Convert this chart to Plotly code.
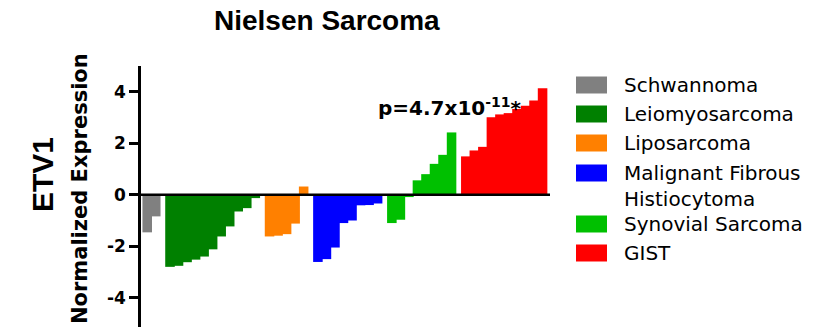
import plotly.graph_objects as go

# ETV1 normalized expression per sample, grouped by tumour type
categories = ["Schwannoma", "Leiomyosarcoma", "Liposarcoma",
              "Malignant Fibrous<br>Histiocytoma", "Synovial Sarcoma", "GIST"]
colors = ["#808080", "#008000", "#FF8000", "#0000FF", "#00C000", "#FF0000"]

schwannoma = [-1.46, -0.84]
leiomyosarcoma = [-2.80, -2.76, -2.62, -2.52, -2.40, -2.12, -1.62, -1.23, -0.65, -0.52, -0.13]
liposarcoma = [-1.62, -1.59, -1.53, -1.12, 0.32]
mfh = [-2.61, -2.50, -2.05, -1.10, -1.00, -0.41, -0.40, -0.34]
synovial = [-1.10, -0.97, -0.09, 0.56, 0.80, 1.20, 1.55, 2.42]
gist = [1.49, 1.72, 1.86, 3.01, 3.12, 3.17, 3.33, 3.46, 3.66, 4.14]

groups = [schwannoma, leiomyosarcoma, liposarcoma, mfh, synovial, gist]

tick_vals = [-4, -2, 0, 2, 4]
tick_text = ["-4", "-2", "0", "2", "4"]

title_text = "Nielsen Sarcoma"
gene_label = "ETV1"
axis_label = "Normalized Expression"
p_label = "p=4.7x10<sup>-11</sup>*"

# figure geometry (pixels)
W, H = 818, 327
L, R, T, B = 141, 550, 66, 327
GAP = 0.67  # space between tumour groups, in bar widths


def xp(px):
    return (px - L) / (R - L)


def yp(py):
    return (B - py) / (B - T)


fig = go.Figure()
start = 0.0
for vals, col, name in zip(groups, colors, categories):
    xs = [start + i + 0.5 for i in range(len(vals))]
    # bars slightly overlap so neighbouring samples merge into one block
    fig.add_trace(go.Bar(x=xs, y=vals, width=1.12, marker=dict(color=col, line=dict(width=0)),
                         name=name, showlegend=False))
    start += len(vals) + GAP
end = start - GAP

shapes = [dict(type="line", xref="paper", x0=0, x1=1, yref="y", y0=0, y1=0,
               line=dict(color="black", width=2.5), layer="above")]
annotations = []

# title and axis labels
annotations.append(dict(text=title_text, xref="paper", yref="paper", x=xp(327), y=yp(20),
                        xanchor="center", yanchor="middle", showarrow=False,
                        font=dict(family="Liberation Sans, Arial", size=28, weight="bold", color="black")))
annotations.append(dict(text=gene_label, xref="paper", yref="paper", x=xp(42), y=yp(175),
                        xanchor="center", yanchor="middle", textangle=-90, showarrow=False,
                        font=dict(family="Liberation Sans, Arial", size=30, weight="bold", color="black")))
annotations.append(dict(text=axis_label, xref="paper", yref="paper", x=xp(80), y=yp(189),
                        xanchor="center", yanchor="middle", textangle=-90, showarrow=False,
                        font=dict(family="DejaVu Sans", size=21, weight="bold", color="black")))
annotations.append(dict(text=p_label, xref="paper", yref="paper", x=xp(376), y=yp(107),
                        xanchor="left", yanchor="middle", showarrow=False,
                        font=dict(family="DejaVu Sans", size=20, weight="bold", color="black")))

# legend: swatch + label per tumour type
legend_rows = [85, 114, 143, 173, 224, 253]
for name, col, cy in zip(categories, colors, legend_rows):
    shapes.append(dict(type="rect", xref="paper", yref="paper",
                       x0=xp(576), x1=xp(607), y0=yp(cy + 8.5), y1=yp(cy - 8.5),
                       fillcolor=col, line=dict(width=0), layer="above"))
    two_line = "<br>" in name
    annotations.append(dict(text=name, xref="paper", yref="paper", x=xp(622),
                            y=yp(cy - 14) if two_line else yp(cy),
                            xanchor="left", yanchor="top" if two_line else "middle",
                            align="left", showarrow=False,
                            font=dict(family="DejaVu Sans", size=20, color="black")))

fig.update_layout(
    width=W, height=H,
    margin=dict(l=L, r=W - R, t=T, b=H - B, pad=0),
    paper_bgcolor="white", plot_bgcolor="white",
    showlegend=False, barmode="overlay",
    xaxis=dict(range=[-0.23, end + 0.37], visible=False),
    yaxis=dict(range=[5 - (B - T) / 25.75, 5], tickvals=tick_vals, ticktext=tick_text,
               ticks="outside", ticklen=9, tickwidth=2.5, tickcolor="black",
               showline=True, linecolor="black", linewidth=2.5,
               zeroline=False, showgrid=False,
               tickfont=dict(family="DejaVu Sans", size=17, weight="bold", color="black")),
    shapes=shapes, annotations=annotations,
)

fig.write_html("out.html")
